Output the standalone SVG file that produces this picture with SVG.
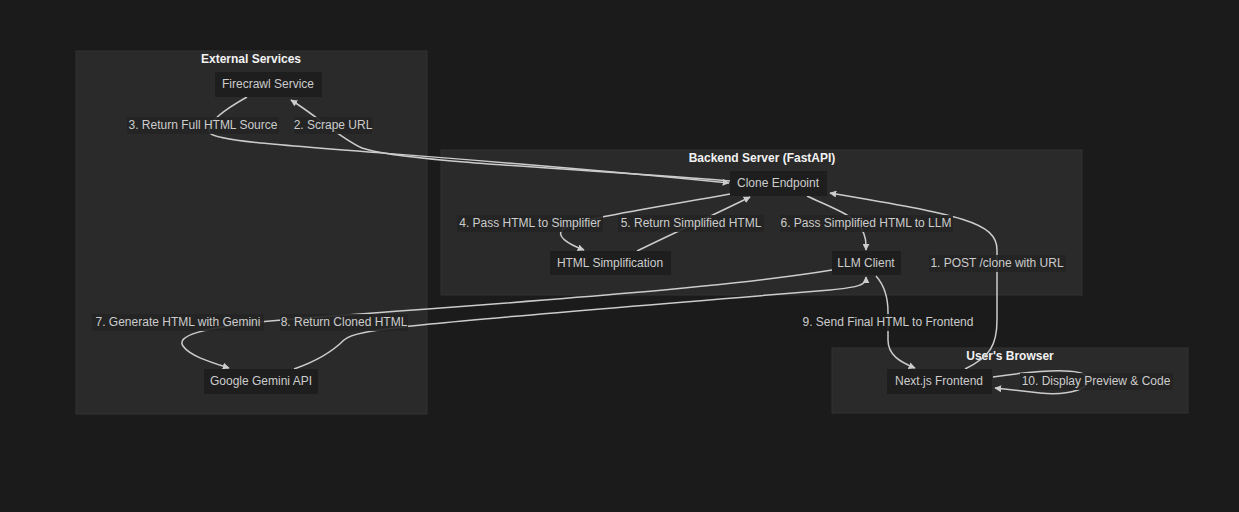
<svg xmlns="http://www.w3.org/2000/svg" width="1239" height="512" viewBox="0 0 1239 512">
<style>
.cl{fill:#2a2a2a;stroke:#333333;stroke-width:1}
.ct{font-family:"Liberation Sans",Arial,sans-serif;font-size:12px;font-weight:bold;fill:#f2f2f2;text-anchor:middle}
.nd{fill:#1e1e1e;stroke:none}
.nt{font-family:"Liberation Sans",Arial,sans-serif;font-size:12px;fill:#cccccc;text-anchor:middle}
.lb{fill:#232323;opacity:0.9}
.lt{font-family:"Liberation Sans",Arial,sans-serif;font-size:12px;fill:#cccccc;text-anchor:middle}
.e{fill:none;stroke:#cccccc;stroke-width:1.5;marker-end:url(#ah)}
</style>
<defs>
<marker id="ah" viewBox="0 0 10 10" refX="9" refY="5" markerWidth="7" markerHeight="7" orient="auto" markerUnits="userSpaceOnUse">
<path d="M0,0 L10,5 L0,10 z" fill="#cccccc"/>
</marker>
</defs>
<rect width="1239" height="512" fill="#1b1b1b"/>
<g id="cluster-external">
<rect class="cl" x="76" y="51" width="351" height="363"/>
<text class="ct" x="251" y="63">External Services</text>
</g>
<g id="cluster-backend">
<rect class="cl" x="441" y="150" width="641" height="145"/>
<text class="ct" x="762" y="162">Backend Server (FastAPI)</text>
</g>
<g id="cluster-browser">
<rect class="cl" x="832" y="348" width="356" height="65"/>
<text class="ct" x="1010" y="360">User's Browser</text>
</g>
<g id="connectors">
<path class="e" d="M965,369 C990,357 997,345 997,320 L997,250 C997,222 960,215 830,193"/>
<path class="e" d="M730,181 C600,170 400,162 362,148 C340,138 318,117 291,100"/>
<path class="e" d="M247,97 C222,111 205,124 210,133 C218,146 400,150 729,183"/>
<path class="e" d="M730,194 C640,210 578,219 563,229 C555,236 568,244 584,250"/>
<path class="e" d="M637,251 C680,230 720,212 750,197"/>
<path class="e" d="M807,196 C830,207 854,215 861,228 C866,236 866,242 866,250"/>
<path class="e" d="M832,270 C700,292 400,310 270,321 C200,328 176,336 183,346 C190,356 210,362 229,368"/>
<path class="e" d="M294,369 C320,360 334,350 344,340 C356,329 400,325 830,290 C860,287 866,285 866,277"/>
<path class="e" d="M876,276 C884,285 888,296 888,312 L888,340 C888,355 900,362 915,368"/>
<path class="e" d="M993,377 C1040,370 1080,367 1088,377 C1093,388 1070,396 1040,393 L995,388"/>
</g>
<g id="labels">
<rect class="lb" x="127" y="117" width="152" height="17"/><text class="lt" x="203" y="129">3. Return Full HTML Source</text>
<rect class="lb" x="294" y="117" width="78" height="17"/><text class="lt" x="333" y="129">2. Scrape URL</text>
<rect class="lb" x="457" y="215" width="146" height="17"/><text class="lt" x="530" y="227">4. Pass HTML to Simplifier</text>
<rect class="lb" x="618" y="215" width="146" height="17"/><text class="lt" x="691" y="227">5. Return Simplified HTML</text>
<rect class="lb" x="780" y="215" width="173" height="17"/><text class="lt" x="866" y="227">6. Pass Simplified HTML to LLM</text>
<rect class="lb" x="929" y="255" width="137" height="17"/><text class="lt" x="997" y="267">1. POST /clone with URL</text>
<rect class="lb" x="92" y="314" width="172" height="17"/><text class="lt" x="178" y="326">7. Generate HTML with Gemini</text>
<rect class="lb" x="280" y="314" width="128" height="17"/><text class="lt" x="344" y="326">8. Return Cloned HTML</text>
<rect class="lb" x="800" y="314" width="176" height="17" style="fill:#1b1b1b"/><text class="lt" x="888" y="326">9. Send Final HTML to Frontend</text>
<rect class="lb" x="1020" y="373" width="153" height="17"/><text class="lt" x="1096" y="385">10. Display Preview &amp; Code</text>
</g>
<g id="node-firecrawl"><rect class="nd" x="215" y="72" width="107" height="25"/><text class="nt" x="268" y="88">Firecrawl Service</text></g>
<g id="node-clone"><rect class="nd" x="730" y="171" width="97" height="25"/><text class="nt" x="778" y="187">Clone Endpoint</text></g>
<g id="node-simplify"><rect class="nd" x="550" y="251" width="121" height="24"/><text class="nt" x="610" y="267">HTML Simplification</text></g>
<g id="node-llm"><rect class="nd" x="832" y="251" width="69" height="24"/><text class="nt" x="866" y="267">LLM Client</text></g>
<g id="node-gemini"><rect class="nd" x="204" y="369" width="114" height="25"/><text class="nt" x="261" y="385">Google Gemini API</text></g>
<g id="node-frontend"><rect class="nd" x="887" y="369" width="105" height="25"/><text class="nt" x="939" y="385">Next.js Frontend</text></g>
</svg>
